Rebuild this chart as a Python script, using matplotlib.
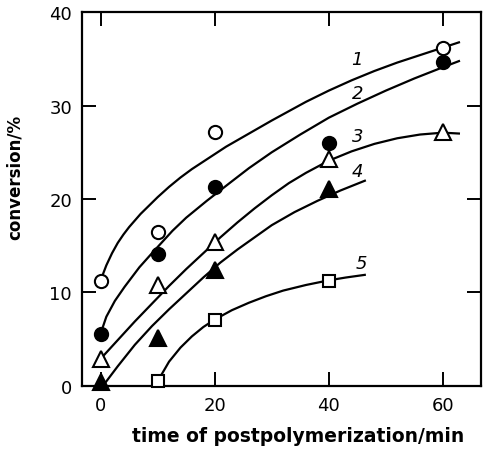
import matplotlib
matplotlib.use("Agg")
import matplotlib.pyplot as plt

# measured points (time in min, conversion in %)
t1 = [0, 10, 20, 60]
c1 = [11.2, 16.5, 27.2, 36.2]
t2 = [0, 10, 20, 40, 60]
c2 = [5.6, 14.1, 21.3, 26.0, 34.7]
t3 = [0, 10, 20, 40, 60]
c3 = [2.9, 10.8, 15.4, 24.3, 27.2]
t4 = [0, 10, 20, 40]
c4 = [0.4, 5.1, 12.4, 21.1]
t5 = [10, 20, 40]
c5 = [0.5, 7.0, 11.2]

# hand-drawn curves
ct1 = [0, 0.5, 1, 2, 3, 4, 5, 6, 7, 8, 10, 12, 14, 16, 18, 20, 22, 24, 26, 28, 30, 33, 36, 40, 44, 48, 52, 56, 60, 63]
cc1 = [11.2, 12.1, 12.9, 14.2, 15.3, 16.2, 17.0, 17.7, 18.4, 19.0, 20.2, 21.3, 22.3, 23.2, 24.0, 24.8, 25.6, 26.3, 27.0, 27.7,
       28.4, 29.4, 30.4, 31.6, 32.7, 33.7, 34.6, 35.4, 36.2, 36.8]
ct2 = [0, 1, 2.5, 4.2, 6.8, 9, 12.6, 15, 18.6, 22.6, 26, 30, 35, 40, 45, 50, 55, 60, 63]
cc2 = [5.6, 7.4, 9.1, 10.6, 12.7, 14.2, 16.6, 18.0, 19.8, 21.7, 23.3, 25.0, 26.9, 28.7, 30.2, 31.6, 32.9, 34.1, 34.8]
ct3 = [0, 3, 6, 9, 12, 15, 18, 21, 24, 27, 30, 33, 36, 40, 44, 48, 52, 56, 60, 63]
cc3 = [2.9, 4.9, 6.9, 8.8, 10.7, 12.5, 14.2, 15.9, 17.5, 19.0, 20.4, 21.7, 22.8, 24.1, 25.1, 25.9, 26.5, 26.9, 27.1, 27.0]
ct4 = [0.4, 3, 6, 9, 12, 15, 18, 21, 24, 27, 30, 34, 38, 42, 46.5]
cc4 = [0.0, 2.1, 4.4, 6.4, 8.2, 9.9, 11.6, 13.2, 14.6, 15.9, 17.2, 18.6, 19.8, 20.9, 22.0]
ct5 = [10, 12, 14, 16, 18, 20, 23, 26, 29, 32, 36, 40, 43, 46.5]
cc5 = [0.5, 2.6, 4.1, 5.3, 6.3, 7.1, 8.1, 8.9, 9.6, 10.2, 10.8, 11.3, 11.6, 11.9]

labels = ["1", "2", "3", "4", "5"]
label_t = [44.9, 45.1, 45.1, 45.1, 45.8]
label_c = [35.0, 31.3, 26.7, 23.0, 13.1]

fig = plt.figure(figsize=(4.84, 4.52), dpi=100)
ax = fig.add_axes([0.169, 0.144, 0.825, 0.827])

for ct, cc in [(ct1, cc1), (ct2, cc2), (ct3, cc3), (ct4, cc4), (ct5, cc5)]:
    ax.plot(ct, cc, color="black", lw=1.6, zorder=2, solid_capstyle="butt", solid_joinstyle="round")

mk = dict(linestyle="none", markeredgecolor="black", markeredgewidth=1.5, zorder=3, clip_on=False)
ax.plot(t1, c1, marker="o", markersize=9.5, markerfacecolor="white", **mk)
ax.plot(t2, c2, marker="o", markersize=9.5, markerfacecolor="black", **mk)
ax.plot(t3, c3, marker="^", markersize=11, markerfacecolor="white", **mk)
ax.plot(t4, c4, marker="^", markersize=11, markerfacecolor="black", **mk)
ax.plot(t5, c5, marker="s", markersize=8.5, markerfacecolor="white", **mk)

for s, x, y in zip(labels, label_t, label_c):
    ax.text(x, y, s, fontsize=13, style="italic", ha="center", va="center")

ax.set_xlim(-3.3, 66.7)
ax.set_ylim(0, 40)
ax.set_xticks([0, 20, 40, 60])
ax.set_yticks([0, 10, 20, 30, 40])
ax.tick_params(direction="in", length=10, width=1.4, top=True, right=True,
               labelsize=13, pad=7)
for sp in ax.spines.values():
    sp.set_linewidth(1.6)

ax.set_xlabel("time of postpolymerization/min", fontsize=13.5, fontweight="bold")
ax.set_ylabel("conversion/%", fontsize=12, fontweight="bold")
ax.xaxis.set_label_coords(0.541, -0.107)
ax.yaxis.set_label_coords(-0.145, 0.56)

fig.savefig("out.png", dpi=100)
